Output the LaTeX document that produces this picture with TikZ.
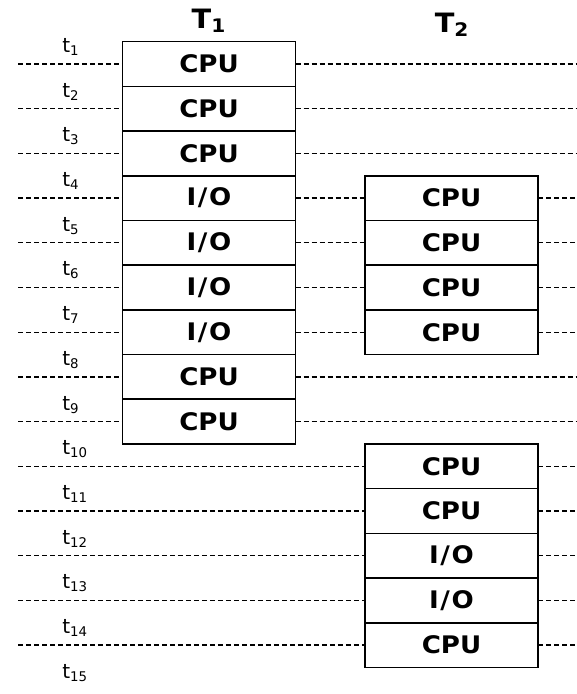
\documentclass[tikz,border=0pt]{standalone}
\usepackage{fontspec}
\setmainfont{DejaVu Sans}
\newfontfamily\boxfont[FakeStretch=1.08]{DejaVu Sans}
\usetikzlibrary{calc}
\newcommand{\iotxt}{I\kern1pt/\kern1ptO}

\begin{document}
\begin{tikzpicture}[x=0.6pt,y=-0.6pt,
  slot/.style={draw,line width=0.9pt,minimum width=104pt,minimum height=26.8pt,
    inner sep=0pt,outer sep=0pt,font=\boxfont\fontsize{14.5}{16}\selectfont\bfseries},
  head/.style={font=\boxfont\fontsize{16}{18}\selectfont\bfseries},
  lbl/.style={anchor=west,inner sep=0pt,font=\fontsize{12}{14}\selectfont},
  guide/.style={line width=0.75pt,dash pattern=on 3pt off 1.8pt}]
\useasboundingbox (0,0) rectangle (577,694);

\node[head] (h1) at (209,21) {T\textsubscript{1}};
\node[head] (h2) at (452,25) {T\textsubscript{2}};

% time ticks
\foreach \k in {1,...,15}
  \node[lbl] (t\k) at (62,{64+44.7*(\k-1)-17}) {t\textsubscript{\k}};
\foreach \k in {1,...,14}{
  \coordinate (L\k) at (18,{64+44.7*(\k-1)});
  \coordinate (R\k) at (577,{64+44.7*(\k-1)});
}

% thread 1
\foreach \k/\txt in {1/CPU,2/CPU,3/CPU,4/\iotxt,5/\iotxt,6/\iotxt,7/\iotxt,8/CPU,9/CPU}
  \node[slot] (a\k) at (209,{64+44.7*(\k-1)}) {\txt};

% thread 2
\foreach \k/\txt in {4/CPU,5/CPU,6/CPU,7/CPU,10/CPU,11/CPU,12/\iotxt,13/\iotxt,14/CPU}
  \node[slot] (b\k) at (451.5,{64+44.7*(\k-1)}) {\txt};

\foreach \k in {1,...,9} \draw[guide] (L\k) -- (a\k);
\foreach \k in {1,2,3,8,9} \draw[guide] (a\k) -- (R\k);
\foreach \k in {4,...,7}{
  \draw[guide] (a\k) -- (b\k);
  \draw[guide] (b\k) -- (R\k);
}
\foreach \k in {10,...,14}{
  \draw[guide] (L\k) -- (b\k);
  \draw[guide] (b\k) -- (R\k);
}

\end{tikzpicture}
\end{document}
